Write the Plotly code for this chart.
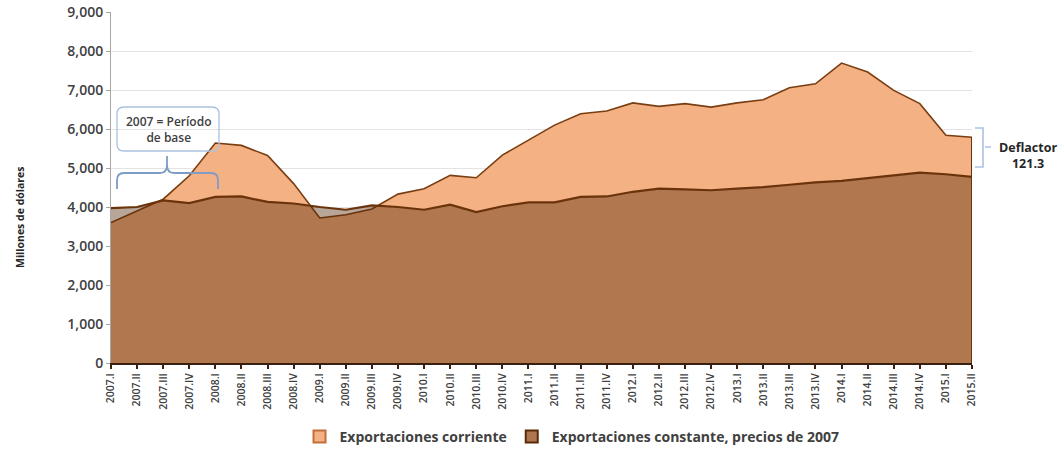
import plotly.graph_objects as go

quarters = []
for yr in range(2007, 2016):
    for q in ["I", "II", "III", "IV"]:
        quarters.append(f"{yr}.{q}")
quarters = quarters[:34]

corriente = [3600, 3900, 4200, 4800, 5640, 5580, 5320, 4600, 3720, 3800,
             3950, 4330, 4470, 4810, 4750, 5330, 5710, 6100, 6390, 6460,
             6670, 6580, 6650, 6560, 6670, 6750, 7060, 7160, 7690, 7460,
             6990, 6650, 5840, 5790]

constante = [3970, 4000, 4170, 4100, 4260, 4270, 4130, 4090, 4000, 3930,
             4040, 4000, 3930, 4060, 3870, 4020, 4120, 4120, 4260, 4270,
             4390, 4470, 4450, 4430, 4470, 4510, 4570, 4630, 4670, 4740,
             4820, 4880, 4840, 4770]

yticks = [0, 1000, 2000, 3000, 4000, 5000, 6000, 7000, 8000, 9000]

W, H = 1063, 450
L, R, T, B = 111, 91, 12, 87
pw, ph = W - L - R, H - T - B


def fx(x):
    return (x - L) / pw


def fy(y):
    return (H - B - y) / ph


def path(cmds):
    out = []
    for c in cmds:
        if isinstance(c, str):
            out.append(c)
        else:
            out.append(f"{fx(c[0]):.5f},{fy(c[1]):.5f}")
    return " ".join(out)


xs = list(range(len(quarters)))

LIGHT = "#F4B183"
DARK_FILL = "rgba(78,32,0,0.40)"
DARK_SOLID = "#B0774E"

fig = go.Figure()
fig.add_trace(go.Scatter(
    x=xs, y=corriente, name="Exportaciones corriente", mode="lines",
    fill="tozeroy", fillcolor=LIGHT, showlegend=False,
    line=dict(color="#7A3E12", width=1.6),
))
fig.add_trace(go.Scatter(
    x=xs, y=constante, name="Exportaciones constante, precios de 2007", mode="lines",
    fill="tozeroy", fillcolor=DARK_FILL, showlegend=False,
    line=dict(color="#6B330C", width=2.2),
))
# right edge of areas
fig.add_trace(go.Scatter(
    x=[xs[-1], xs[-1]], y=[0, corriente[-1]], mode="lines",
    line=dict(color="#6B330C", width=2), showlegend=False, hoverinfo="skip",
))
# legend entries
fig.add_trace(go.Scatter(
    x=[None], y=[None], mode="markers", name="Exportaciones corriente",
    marker=dict(symbol="square", size=10, color=LIGHT, line=dict(color="#C0703A", width=1.5)),
))
fig.add_trace(go.Scatter(
    x=[None], y=[None], mode="markers", name="Exportaciones constante, precios de 2007",
    marker=dict(symbol="square", size=10, color=DARK_SOLID, line=dict(color="#5A2A08", width=1.5)),
))

shapes = []
blue = "#7F9CC4"
lightblue = "#A9C2E2"
# rounded box
x0, x1, y0, y1, r = 117, 219, 107, 151, 7
shapes.append(dict(
    type="path", xref="paper", yref="paper", layer="above",
    path=path(["M", (x0 + r, y0), "L", (x1 - r, y0), "Q", (x1, y0), (x1, y0 + r),
               "L", (x1, y1 - r), "Q", (x1, y1), (x1 - r, y1),
               "L", (x0 + r, y1), "Q", (x0, y1), (x0, y1 - r),
               "L", (x0, y0 + r), "Q", (x0, y0), (x0 + r, y0), "Z"]),
    line=dict(color=lightblue, width=1.3), fillcolor="rgba(255,255,255,0)",
))
# curly brace
shapes.append(dict(
    type="path", xref="paper", yref="paper",
    path=path(["M", (117, 189), "L", (117, 180), "Q", (117, 173), (124, 173),
               "L", (160, 173), "Q", (167, 173), (167, 165), "L", (167, 156),
               "M", (167, 165), "Q", (167, 173), (174, 173),
               "L", (211, 173), "Q", (218, 173), (218, 180), "L", (218, 189)]),
    line=dict(color=blue, width=1.8),
))
# right bracket
shapes.append(dict(
    type="path", xref="paper", yref="paper",
    path=path(["M", (975, 128), "L", (983, 128), "L", (983, 167), "L", (975, 167),
               "M", (985, 147), "L", (991, 147)]),
    line=dict(color=lightblue, width=1.6),
))

annotations = [
    dict(x=fx(168), y=fy(129), xref="paper", yref="paper",
         xanchor="center", yanchor="middle",
         text="2007 = Período<br>de base", showarrow=False,
         font=dict(family="Open Sans", size=12, color="#404040", weight=600),
         align="center"),
    dict(x=fx(1028), y=fy(155), xref="paper", yref="paper",
         xanchor="center", yanchor="middle",
         text="Deflactor<br>121.3", showarrow=False,
         font=dict(family="Open Sans", size=12.5, color="#262626", weight=700),
         align="center"),
    dict(x=fx(20), y=fy(217), xref="paper", yref="paper",
         xanchor="center", yanchor="middle",
         text="Millones de dólares", showarrow=False, textangle=-90,
         font=dict(family="Open Sans", size=10.5, color="#262626", weight=700)),
]

fig.update_layout(
    width=W, height=H,
    margin=dict(l=L, r=R, t=T, b=B, autoexpand=False),
    paper_bgcolor="white", plot_bgcolor="white",
    shapes=shapes, annotations=annotations,
    showlegend=True, hovermode=False,
    legend=dict(orientation="h", x=fx(572), xanchor="center", y=fy(437), yanchor="middle",
                font=dict(family="Open Sans", size=14, color="#404040", weight=700),
                itemsizing="constant", traceorder="normal", tracegroupgap=0),
    xaxis=dict(
        range=[0, len(quarters) - 1], tickmode="array", tickvals=xs, ticktext=quarters,
        tickangle=-90, tickfont=dict(family="Open Sans", size=10.5, color="#404040", weight=600),
        showgrid=False, showline=True, linecolor="#3A2010", linewidth=2,
        ticks="outside", ticklen=4, tickcolor="#3A2010", tickwidth=1.5, zeroline=False,
    ),
    yaxis=dict(
        range=[0, 9000], tickmode="array", tickvals=yticks,
        ticktext=[f"{v:,}" for v in yticks],
        tickfont=dict(family="Open Sans", size=14, color="#404040", weight=600),
        showgrid=True, gridcolor="#E3E3E3", gridwidth=1.3,
        showline=True, linecolor="#A6A6A6", linewidth=1,
        ticks="outside", ticklen=4, tickcolor="#A6A6A6", zeroline=False,
    ),
)

fig.write_html("out.html", config={"displayModeBar": False},
               post_script="document.body.style.margin='0px';document.body.style.overflow='hidden';")
